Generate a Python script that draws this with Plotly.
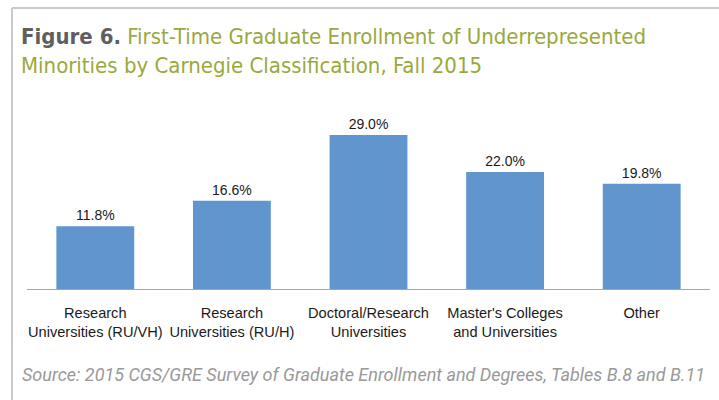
import plotly.graph_objects as go

categories = [
    "Research<br>Universities (RU/VH)",
    "Research<br>Universities (RU/H)",
    "Doctoral/Research<br>Universities",
    "Master's Colleges<br>and Universities",
    "Other",
]
values = [11.8, 16.6, 29.0, 22.0, 19.8]
value_labels = ["11.8%", "16.6%", "29.0%", "22.0%", "19.8%"]

W, H = 719, 400
L, R, T, B = 27, 9, 103, 111
plot_w = W - L - R
plot_h = H - T - B

def px_x(x):
    return (x - L) / plot_w

def px_y(y):
    return (H - B - y) / plot_h

cond = "font-stretch:condensed"
fig = go.Figure(
    go.Bar(
        x=categories,
        y=values,
        text=value_labels,
        textposition="outside",
        textfont=dict(family="Liberation Sans, Arial", size=14, color="#1a1a1a"),
        marker=dict(color="#6096cd", line=dict(width=0)),
        width=0.57,
        cliponaxis=False,
    )
)

fig.update_layout(
    width=W,
    height=H,
    margin=dict(l=L, r=R, t=T, b=B),
    plot_bgcolor="white",
    paper_bgcolor="white",
    showlegend=False,
    title=dict(
        text=f"<b><span style='color:#5e5f61;{cond}'>Figure 6.</span></b>"
             f"<span style='color:#9aa83c;{cond}'> First-Time Graduate Enrollment of Underrepresented</span><br>"
             f"<span style='color:#9aa83c;{cond}'>Minorities by Carnegie Classification, Fall 2015</span>",
        x=21 / W,
        xanchor="left",
        xref="container",
        y=1 - 44 / H,
        yanchor="top",
        yref="container",
        font=dict(family="DejaVu Sans Condensed, DejaVu Sans", size=22),
    ),
    xaxis=dict(
        showline=True,
        linecolor="#a6a6a6",
        linewidth=1,
        ticks="",
        ticklabelstandoff=10,
        tickfont=dict(family="Liberation Sans, Arial", size=14.6, color="#1a1a1a"),
        showgrid=False,
    ),
    yaxis=dict(
        range=[0, 35],
        visible=False,
        showgrid=False,
    ),
    shapes=[
        dict(type="line", xref="paper", yref="paper",
             x0=px_x(12), x1=px_x(W + 2), y0=px_y(8), y1=px_y(8),
             line=dict(color="#c9c9c9", width=2)),
        dict(type="line", xref="paper", yref="paper",
             x0=px_x(12), x1=px_x(12), y0=px_y(8), y1=px_y(H + 2),
             line=dict(color="#c9c9c9", width=2)),
    ],
    annotations=[
        dict(
            text="<i>Source: 2015 CGS/GRE Survey of Graduate Enrollment and Degrees, Tables B.8 and B.11</i>",
            xref="paper", yref="paper",
            x=px_x(20), y=px_y(374),
            xanchor="left", yanchor="middle",
            showarrow=False,
            font=dict(family="Roboto, Liberation Sans", size=18, color="#999999"),
        )
    ],
)

fig.write_html("out.html", config={"displayModeBar": False},
               post_script="document.body.style.margin='0';")
